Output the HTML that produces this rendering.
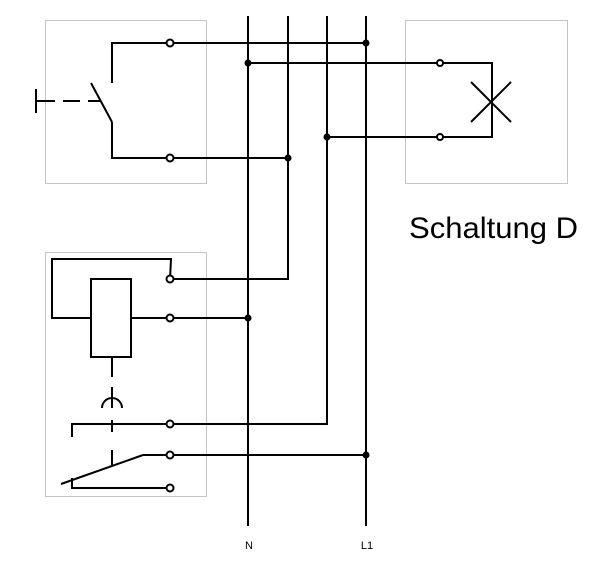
<!DOCTYPE html>
<html><head><style>body{margin:0;background:#fff}</style></head><body>
<svg width="613" height="576" viewBox="0 0 613 576" xmlns="http://www.w3.org/2000/svg">
<g fill="none" stroke="#888" stroke-width="1" stroke-dasharray="1,1">
<rect x="45.5" y="20.5" width="161" height="163"/>
<rect x="405.5" y="20.5" width="162" height="163"/>
<rect x="45.5" y="252.5" width="161" height="244"/>
</g>
<g fill="none" stroke="#000" stroke-width="2">
<line x1="248" y1="16" x2="248" y2="526"/>
<line x1="288" y1="16" x2="288" y2="280"/>
<line x1="327" y1="16" x2="327" y2="425"/>
<line x1="366" y1="16" x2="366" y2="526"/>
<polyline points="112,83 112,43 366,43"/>
<line x1="91" y1="83" x2="112" y2="122"/>
<polyline points="112,122 112,158 288,158"/>
<line x1="36" y1="101" x2="55" y2="101"/>
<line x1="63" y1="101" x2="80" y2="101"/>
<line x1="88" y1="101" x2="100" y2="101"/>
<line x1="36" y1="89" x2="36" y2="113"/>
<polyline points="248,63 492,63 492,137 327,137"/>
<line x1="471" y1="82" x2="511" y2="122"/>
<line x1="511" y1="82" x2="471" y2="122"/>
<polyline points="170,279 171,259 52,259 52,318 91,318"/>
<polyline points="170,279 288,279"/>
<rect x="91" y="279" width="40" height="78"/>
<line x1="131" y1="318" x2="248" y2="318"/>
<line x1="112" y1="357" x2="112" y2="377"/>
<line x1="112" y1="387" x2="112" y2="408"/>
<path d="M102,408 A10,10 0 0 1 122,408"/>
<line x1="112" y1="420" x2="112" y2="432"/>
<line x1="112" y1="450" x2="112" y2="465"/>
<polyline points="72,437 72,424 327,424"/>
<line x1="61" y1="484" x2="143" y2="455"/>
<line x1="143" y1="455" x2="366" y2="455"/>
<polyline points="72,478 72,488 170,488"/>
</g>
<g fill="#fff" stroke="#000" stroke-width="2">
<circle cx="170" cy="43" r="3.5"/><circle cx="170" cy="158" r="3.5"/>
<circle cx="440" cy="63" r="3"/><circle cx="440" cy="137" r="3"/>
<circle cx="170" cy="279" r="3.5"/><circle cx="170" cy="318" r="3.5"/>
<circle cx="170" cy="424" r="3.5"/><circle cx="170" cy="455" r="3.5"/><circle cx="170" cy="488" r="3.5"/>
</g>
<g fill="#000">
<circle cx="366" cy="43" r="3.5"/><circle cx="248" cy="63" r="3.5"/>
<circle cx="288" cy="158" r="3.5"/><circle cx="327" cy="137" r="3.5"/>
<circle cx="248" cy="318" r="3.5"/><circle cx="366" cy="455" r="3.5"/>
</g>
<g font-family="Liberation Sans, sans-serif" fill="#000">
<text x="249" y="549" font-size="11" text-anchor="middle">N</text>
<text x="367" y="549" font-size="11" text-anchor="middle">L1</text>
<text x="409" y="238" font-size="30" textLength="169" lengthAdjust="spacingAndGlyphs">Schaltung D</text>
</g>
</svg>
</body></html>
